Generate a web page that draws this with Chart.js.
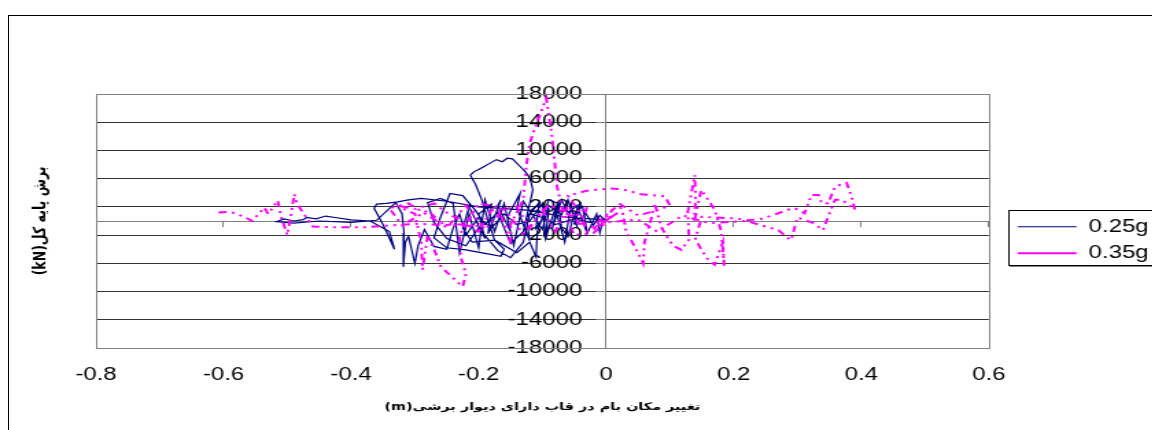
<!DOCTYPE html>
<html>
<head>
<meta charset="utf-8">
<script src="https://cdn.jsdelivr.net/npm/chart.js@4.4.1/dist/chart.umd.min.js"></script>
<style>
  html, body { margin: 0; padding: 0; background: #fff; overflow: hidden; width: 1152px; height: 430px; }
  #frame { position: absolute; left: 8px; top: 15px; width: 1300px; height: 600px; border-left: 1px solid #000; border-top: 1px solid #000; }
  #chart { position: absolute; left: 0; top: 0; }
</style>
</head>
<body>
<div id="frame"></div>
<!-- the original picture is stretched sideways, so the canvas is too -->
<canvas id="chart" width="850" height="430" style="width:1165.7px;height:430px"></canvas>
<script>
// Series names
const seriesNames = ["0.25g", "0.35g"];

// 0.25g : roof displacement (m) / base shear (kN)
const x25 = [0.000,-0.010,-0.020,-0.035,-0.030,-0.045,-0.050,-0.040,-0.060,-0.070,-0.085,-0.075,-0.095,-0.090,-0.110,-0.105,-0.125,-0.120,-0.140,-0.135,
  -0.155,-0.150,-0.170,-0.165,-0.185,-0.180,-0.200,-0.190,-0.215,-0.225,-0.210,-0.175,-0.160,-0.165,-0.190,-0.220,-0.250,-0.270,-0.260,-0.245,
  -0.225,-0.205,-0.190,-0.170,-0.150,-0.130,-0.115,-0.118,-0.122,-0.128,-0.137,-0.147,-0.155,-0.163,-0.172,-0.182,-0.192,-0.200,-0.207,-0.213,
  -0.210,-0.205,-0.195,-0.185,-0.175,-0.140,-0.120,-0.110,
  -0.108,-0.090,-0.075,-0.070,-0.060,-0.050,-0.037,-0.030,-0.015,-0.010,-0.005,-0.060,-0.120,-0.200,-0.250,-0.290,-0.310,-0.327,-0.345,-0.360,-0.364,
  -0.350,-0.332,-0.340,-0.370,-0.400,-0.425,-0.440,-0.455,-0.470,-0.475,-0.490,-0.505,-0.517,-0.490,-0.450,-0.400,-0.360,-0.330,-0.320,-0.317,
  -0.318,-0.315,-0.310,-0.300,-0.295,-0.285,-0.270,-0.250,-0.240,-0.230,-0.220,-0.200,-0.180,-0.160,-0.140,-0.120,
  -0.100,-0.095,-0.080,-0.065,-0.055,-0.045,-0.060,-0.070,-0.090,-0.100,-0.130,-0.145,-0.160,-0.175,-0.190,-0.200,-0.215,-0.230,-0.240,-0.260,
  -0.280,-0.270,-0.250,-0.220,-0.200,-0.170,-0.150,-0.130,-0.120,-0.100,-0.080,-0.050,-0.020];
const y25 = [0,800,-600,1500,-1700,2000,-500,2500,1200,3000,-1200,2700,-2000,1500,-1000,2600,500,-2800,1800,3900,
  600,-1500,2200,3000,-1800,2400,1000,-2500,2000,-1000,-3000,-2700,-4000,-5000,-4600,-4100,-3800,-2400,500,3900,
  3600,1500,-500,1200,-3200,-1500,4400,5500,6400,7100,7900,8800,8900,8400,8700,8200,7700,7300,7000,6500,
  6000,5200,3000,0,-2700,-4500,-3000,-5100,
  -1500,3000,2500,-1000,-2200,1000,2100,-1800,1000,-1700,200,500,1500,2000,2800,3200,3000,2700,2500,2400,1800,
  -500,-4000,-1500,0,150,500,700,300,500,200,0,300,-100,-300,0,-200,100,2600,1000,-1700,
  -6500,-3000,-2200,-6000,-3500,-1200,-3600,-4000,-1000,1000,-2000,500,-1000,1000,-500,0,
  2500,-2500,1800,-3000,2300,-1000,3000,900,2200,-1200,2800,-3500,2500,-1500,3000,-3800,1000,-4500,2500,3200,
  2600,-200,-2500,-3500,-1000,-4200,-5200,-3000,1000,500,-500,300,-300];

// 0.35g : roof displacement (m) / base shear (kN)
const x35 = [0.000,0.010,-0.010,0.020,-0.020,0.015,-0.030,-0.040,-0.060,-0.030,0.005,0.025,0.055,0.092,0.100,0.080,0.050,0.020,0.026,0.031,
  0.042,0.052,0.058,0.060,0.070,0.076,0.086,0.095,0.105,0.118,0.130,0.128,0.139,0.140,0.138,0.149,0.160,0.170,0.180,0.183,
  0.185,0.183,0.170,0.160,0.150,0.140,0.150,0.190,0.200,0.223,0.243,0.264,0.285,0.296,0.311,0.322,0.333,0.338,0.348,0.359,
  0.377,0.385,0.390,0.370,0.359,0.348,0.340,0.325,0.300,0.290,0.285,0.270,0.243,0.220,0.160,0.120,0.080,0.050,0.000,-0.020,
  -0.050,-0.070,-0.077,-0.080,-0.085,-0.094,-0.102,-0.113,-0.120,-0.125,-0.130,-0.150,-0.149,-0.170,-0.200,-0.210,-0.230,-0.228,-0.220,-0.225,
  -0.235,-0.259,-0.270,-0.280,-0.288,-0.290,-0.300,-0.330,-0.300,-0.270,-0.250,-0.200,-0.180,-0.140,-0.120,
  -0.100,-0.080,-0.060,-0.040,-0.030,-0.050,-0.090,-0.130,-0.160,-0.190,-0.220,-0.250,-0.280,-0.320,-0.340,-0.310,-0.260,
  -0.200,-0.300,-0.350,-0.380,-0.420,
  -0.460,-0.475,-0.485,-0.489,-0.495,-0.500,-0.510,-0.515,-0.530,-0.536,-0.555,-0.568,-0.589,-0.610];
const y35 = [0,900,-600,1300,-1200,2000,-1500,1000,3600,4300,4600,4500,3800,3500,2200,1500,800,2500,1100,-1300,
  -3200,-4900,-6000,-3000,100,2500,-800,-2200,-3500,-4100,-2600,1300,6500,3000,-100,4400,3000,1600,-1300,-4100,
  -6500,-3000,-6200,-5500,-4200,-2500,600,400,400,100,300,900,1600,1800,1100,3700,3700,2500,2500,4900,
  5400,3400,1600,3000,3000,600,-1300,-300,500,-2700,-2400,-1300,-600,0,-300,800,-1500,200,-200,-1700,
  -2000,2000,4900,7700,12000,17400,15500,12900,11000,8000,3000,-500,-3200,2000,2500,1000,-2000,-5100,-7500,-9300,
  -8500,-6500,-4000,-2000,-6900,-3000,1000,2200,1700,2500,1200,-1500,1500,2000,-1000,
  1500,-1500,2200,-800,2000,500,2300,-1800,1700,-1200,2200,-1000,1500,-600,1800,2500,-300,
  -700,-400,-700,-900,-900,
  -800,1100,2500,3800,500,-2000,700,2900,1000,1900,0,600,1300,1200];

// Axis settings
const xMin = -0.8, xMax = 0.6, xStep = 0.2;
const yMin = -18000, yMax = 18000, yStep = 4000;
const xTitle = "\u202Bتغییر مکان بام در قاب دارای دیوار برشی(m)\u202C";
const yTitle = "\u202Bبرش پایه کل(kN)\u202C";

const toPoints = (xs, ys) => xs.map((x, i) => ({x: x, y: ys[i]}));

Chart.defaults.font.family = "'Liberation Sans', Arial, 'DejaVu Sans', sans-serif";
Chart.defaults.color = '#000';

// gray frame around the plot area
const plotFrame = {
    id: 'plotFrame',
    beforeDatasetsDraw(chart) {
        const a = chart.chartArea, ctx = chart.ctx;
        ctx.save();
        ctx.strokeStyle = '#808080';
        ctx.lineWidth = 1;
        ctx.strokeRect(Math.round(a.left) + 0.5, Math.round(a.top) + 0.5,
            Math.round(a.right - a.left), Math.round(a.bottom - a.top));
        ctx.restore();
    }
};

// legend moved up a little and boxed like Excel
const legendBox = {
    id: 'legendBox',
    afterLayout(chart) {
        chart.legend.top -= 22;
        chart.legend.bottom -= 22;
    },
    afterDraw(chart) {
        const hb = chart.legend.legendHitBoxes;
        if (!hb || !hb.length) return;
        const ctx = chart.ctx;
        const left = Math.round(hb[0].left - 6.5);
        const top = Math.round(hb[0].top - 8);
        const right = Math.round(Math.max(...hb.map(h => h.left + h.width)) + 3);
        const last = hb[hb.length - 1];
        const bottom = Math.round(last.top + last.height + 3);
        ctx.save();
        ctx.strokeStyle = '#808080';
        ctx.lineWidth = 1;
        ctx.beginPath();
        ctx.moveTo(left + 1, bottom + 1.5);
        ctx.lineTo(right + 1.5, bottom + 1.5);
        ctx.lineTo(right + 1.5, top + 1);
        ctx.stroke();
        ctx.strokeStyle = '#000';
        ctx.strokeRect(left + 0.5, top + 0.5, right - left, bottom - top);
        ctx.restore();
    }
};

new Chart(document.getElementById('chart'), {
    type: 'scatter',
    data: {
        datasets: [{
            label: seriesNames[0],
            data: toPoints(x25, y25),
            showLine: true,
            borderColor: '#000080',
            backgroundColor: '#000080',
            borderWidth: 1.2,
            pointRadius: 0,
            pointHoverRadius: 0,
            order: 1
        }, {
            label: seriesNames[1],
            data: toPoints(x35, y35),
            showLine: true,
            borderColor: '#FF00FF',
            backgroundColor: '#FF00FF',
            borderWidth: 2,
            borderDash: [6, 4, 2, 4, 2, 4],
            pointRadius: 0,
            pointHoverRadius: 0,
            order: 0
        }]
    },
    options: {
        responsive: false,
        animation: false,
        events: [],
        layout: { padding: { left: 0, top: 94, right: 12.5, bottom: 0 } },
        plugins: {
            legend: {
                position: 'right',
                labels: {
                    usePointStyle: true,
                    pointStyle: 'line',
                    pointStyleWidth: 43,
                    padding: 9,
                    color: '#000',
                    font: { size: 17.5 },
                    sort: (a, b) => a.datasetIndex - b.datasetIndex
                }
            },
            tooltip: { enabled: false }
        },
        scales: {
            x: {
                type: 'linear', position: 'bottom', min: xMin, max: xMax,
                ticks: { stepSize: xStep, padding: 9, font: { size: 17.5 }, color: '#000',
                    callback: v => String(Math.round(v * 10) / 10) },
                grid: { display: false },
                border: { display: false },
                title: { display: true, text: xTitle, color: '#000',
                    font: { family: "'DejaVu Sans', sans-serif", size: 10.5, weight: 'bold' },
                    padding: { top: 0, bottom: 16 } },
                afterFit: s => { s.height = 82; }
            },
            y: {
                type: 'linear', position: 'left', min: yMin, max: yMax,
                ticks: { stepSize: yStep, display: false },
                grid: { color: '#333', drawTicks: false },
                border: { display: false },
                title: { display: true, text: yTitle, color: '#000',
                    font: { family: "'DejaVu Sans', sans-serif", size: 12.5, weight: 'bold' },
                    padding: { top: 22, bottom: 0 } },
                afterFit: s => { s.width = 70; }
            },
            // x axis line through y = 0
            x0: {
                type: 'linear', position: { y: 0 }, min: xMin, max: xMax,
                ticks: { stepSize: xStep, display: false },
                grid: { drawOnChartArea: false, tickLength: 5, color: '#808080' },
                border: { color: '#808080' }
            },
            // y axis line through x = 0, with the value labels
            y0: {
                type: 'linear', position: { x: 0 }, min: yMin, max: yMax,
                ticks: { stepSize: yStep, font: { size: 17.5 }, color: '#000',
                    callback: v => String(v) + '\u2002\u2002' },
                grid: { drawOnChartArea: false, tickLength: 6.5, color: '#808080' },
                border: { color: '#808080' }
            },
            // spacer between plot and legend
            gap: {
                type: 'linear', position: 'right', display: true,
                ticks: { display: false },
                grid: { display: false },
                border: { display: false },
                afterFit: s => { s.width = 12; }
            }
        }
    },
    plugins: [plotFrame, legendBox]
});
</script>
</body>
</html>
